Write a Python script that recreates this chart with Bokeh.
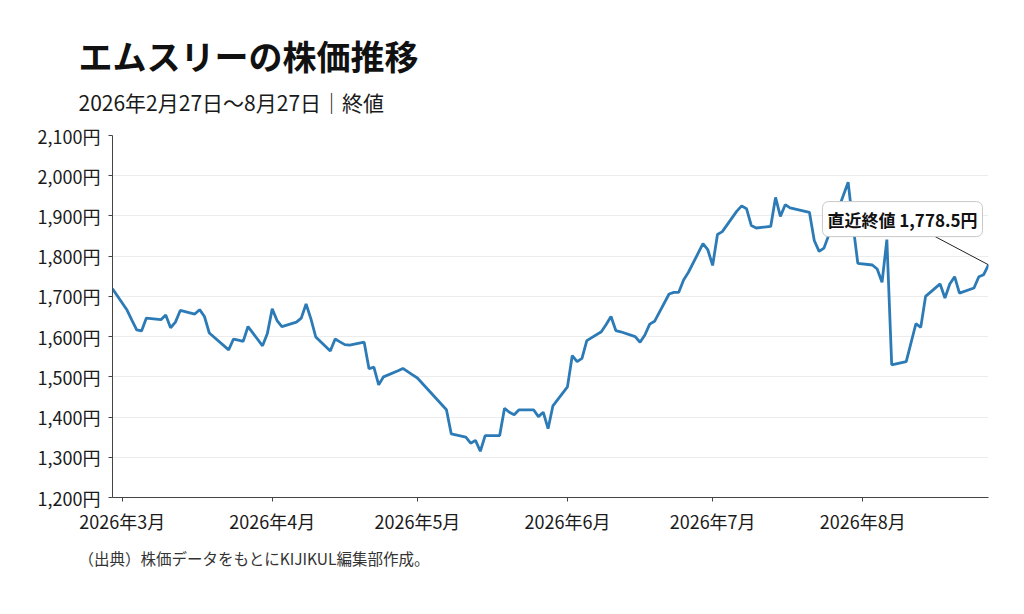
import pandas as pd
from bokeh.plotting import figure
from bokeh.models import ColumnDataSource, Range1d, FixedTicker, Label, Title
from bokeh.embed import file_html
from bokeh.resources import INLINE

TITLE = "エムスリーの株価推移"
SUBTITLE = "2026年2月27日～8月27日｜終値"
SOURCE_NOTE = "（出典）株価データをもとにKIJIKUL編集部作成。"
CALLOUT = "直近終値 1,778.5円"

DATES = [
    "2026-02-27",
    "2026-03-02", "2026-03-03", "2026-03-04", "2026-03-05", "2026-03-06",
    "2026-03-09", "2026-03-10", "2026-03-11", "2026-03-12", "2026-03-13",
    "2026-03-16", "2026-03-17", "2026-03-18", "2026-03-19",
    "2026-03-23", "2026-03-24", "2026-03-25", "2026-03-26", "2026-03-27",
    "2026-03-30", "2026-03-31", "2026-04-01", "2026-04-02", "2026-04-03",
    "2026-04-06", "2026-04-07", "2026-04-08", "2026-04-09", "2026-04-10",
    "2026-04-13", "2026-04-14", "2026-04-15", "2026-04-16", "2026-04-17",
    "2026-04-20", "2026-04-21", "2026-04-22", "2026-04-23", "2026-04-24",
    "2026-04-27", "2026-04-28", "2026-04-30", "2026-05-01",
    "2026-05-07", "2026-05-08",
    "2026-05-11", "2026-05-12", "2026-05-13", "2026-05-14", "2026-05-15",
    "2026-05-18", "2026-05-19", "2026-05-20", "2026-05-21", "2026-05-22",
    "2026-05-25", "2026-05-26", "2026-05-27", "2026-05-28", "2026-05-29",
    "2026-06-01", "2026-06-02", "2026-06-03", "2026-06-04", "2026-06-05",
    "2026-06-08", "2026-06-09", "2026-06-10", "2026-06-11", "2026-06-12",
    "2026-06-15", "2026-06-16", "2026-06-17", "2026-06-18", "2026-06-19",
    "2026-06-22", "2026-06-23", "2026-06-24", "2026-06-25", "2026-06-26",
    "2026-06-29", "2026-06-30", "2026-07-01", "2026-07-02", "2026-07-03",
    "2026-07-06", "2026-07-07", "2026-07-08", "2026-07-09", "2026-07-10",
    "2026-07-13", "2026-07-14", "2026-07-15", "2026-07-16", "2026-07-17",
    "2026-07-21", "2026-07-22", "2026-07-23", "2026-07-24",
    "2026-07-27", "2026-07-28", "2026-07-29", "2026-07-30", "2026-07-31",
    "2026-08-03", "2026-08-04", "2026-08-05", "2026-08-06", "2026-08-07",
    "2026-08-10", "2026-08-12", "2026-08-13", "2026-08-14",
    "2026-08-17", "2026-08-18", "2026-08-19", "2026-08-20", "2026-08-21",
    "2026-08-24", "2026-08-25", "2026-08-26", "2026-08-27",
]

CLOSE = [
    1719,
    1666, 1641, 1617, 1614, 1646,
    1642, 1654, 1622, 1636, 1665,
    1656, 1667, 1650, 1609,
    1567, 1594, 1591, 1588, 1625,
    1577, 1608, 1669, 1640, 1625,
    1636, 1646, 1681, 1644, 1599,
    1564, 1594, 1587, 1580, 1579,
    1586, 1520, 1524, 1480, 1500,
    1515, 1521, 1505, 1497,
    1418, 1358,
    1350, 1335, 1342, 1315, 1354,
    1354, 1422, 1412, 1406, 1418,
    1418, 1401, 1412, 1371, 1428,
    1475, 1553, 1538, 1546, 1590,
    1612, 1630, 1650, 1615, 1612,
    1600, 1586, 1604, 1631, 1638,
    1706, 1710, 1710, 1741, 1760,
    1831, 1816, 1777, 1854, 1861,
    1912, 1925, 1918, 1876, 1870,
    1874, 1946, 1899, 1928, 1920,
    1909, 1839, 1812, 1820,
    1918, 1951, 1984, 1878, 1782,
    1778, 1768, 1735, 1841, 1530,
    1538, 1632, 1623, 1700,
    1731, 1696, 1731, 1749, 1708,
    1721, 1749, 1754, 1778.5,
]

MONTH_TICKS = ["2026-03-01", "2026-04-01", "2026-05-01",
               "2026-06-01", "2026-07-01", "2026-08-01"]
MONTH_LABELS = ["2026年3月", "2026年4月", "2026年5月",
                "2026年6月", "2026年7月", "2026年8月"]
Y_TICKS = [1200, 1300, 1400, 1500, 1600, 1700, 1800, 1900, 2000, 2100]
Y_LABELS = ["1,200円", "1,300円", "1,400円", "1,500円", "1,600円",
            "1,700円", "1,800円", "1,900円", "2,000円", "2,100円"]

FONT = "Noto Sans CJK JP"
LINE_COLOR = "#2c7bb6"
W, H = 1016, 606
FRAME_L, FRAME_R, FRAME_T, FRAME_B = 112, 988, 135, 497


def ms(d):
    return pd.Timestamp(d).value / 1e6


dates = pd.to_datetime(DATES)
source = ColumnDataSource(data=dict(date=dates, close=CLOSE))
y_lo, y_hi = Y_TICKS[0], Y_TICKS[-1]
px_per_val = (FRAME_B - FRAME_T) / (y_hi - y_lo)

p = figure(
    width=W, height=H,
    x_axis_type="datetime",
    x_range=Range1d(dates[0], dates[-1]),
    y_range=Range1d(y_lo, y_hi),
    output_backend="svg",
    toolbar_location=None,
    min_border_left=FRAME_L, min_border_right=W - FRAME_R,
    min_border_top=FRAME_T, min_border_bottom=H - FRAME_B,
)
p.outline_line_color = None
p.background_fill_color = "white"
p.border_fill_color = "white"

p.xgrid.visible = False
p.ygrid.grid_line_color = "#ececec"
p.ygrid.grid_line_width = 1

tick_ms = [ms(d) for d in MONTH_TICKS]
p.xaxis.ticker = FixedTicker(ticks=tick_ms)
p.xaxis.major_label_overrides = {t: lab for t, lab in zip(tick_ms, MONTH_LABELS)}
p.yaxis.ticker = FixedTicker(ticks=Y_TICKS)
p.yaxis.major_label_overrides = {t: lab for t, lab in zip(Y_TICKS, Y_LABELS)}

for ax in (p.xaxis, p.yaxis):
    ax.axis_line_color = "#444444"
    ax.axis_line_width = 1
    ax.major_tick_line_color = "#444444"
    ax.major_tick_out = 4
    ax.major_tick_in = 0
    ax.minor_tick_line_color = None
    ax.major_label_text_font = FONT
    ax.major_label_text_font_size = "18px"
    ax.major_label_text_color = "#1a1a1a"
p.yaxis.major_label_standoff = 8
p.xaxis.major_label_standoff = 6

p.line(x="date", y="close", source=source, line_color=LINE_COLOR, line_width=2.8)

# leader line from the callout box to the latest close
last_x = dates[-1]
last_y = CLOSE[-1]
p.segment(x0=[last_x - pd.Timedelta(days=11)], y0=[last_y + 70],
          x1=[last_x], y1=[last_y], line_color="#222222", line_width=1)

callout = Label(
    x=ms(last_x), y=y_hi - (218.6 - FRAME_T) / px_per_val, x_offset=-6,
    text=CALLOUT, text_align="right", text_baseline="middle",
    text_font=FONT, text_font_size="17px", text_font_style="bold",
    text_color="#111111",
    background_fill_color="white", background_fill_alpha=1.0,
    border_line_color="#c8c8c8", border_line_width=1,
    border_radius=6, padding=5,
)
p.add_layout(callout)

# ---- titles above the frame (stacked outward from the frame) ----
p.title.text = ""
spacer = Title(text=" ", text_font_size="1px", standoff=11)
subtitle = Title(text=SUBTITLE, align="left", offset=-34, vertical_align="middle",
                 text_font=FONT, text_font_size="21px", text_font_style="normal",
                 text_color="#1a1a1a", standoff=7)
title = Title(text=TITLE, align="left", offset=-34, vertical_align="middle",
              text_font=FONT, text_font_size="34px", text_font_style="bold",
              text_color="#111111", standoff=4)
p.add_layout(spacer, "above")
p.add_layout(subtitle, "above")
p.add_layout(title, "above")

# ---- source note below the x axis ----
note = Title(text=SOURCE_NOTE, align="left", offset=-34, vertical_align="middle",
             text_font=FONT, text_font_size="15.5px", text_font_style="normal",
             text_color="#333333", standoff=19)
p.add_layout(note, "below")

open("out.html", "w").write(file_html(p, INLINE))
